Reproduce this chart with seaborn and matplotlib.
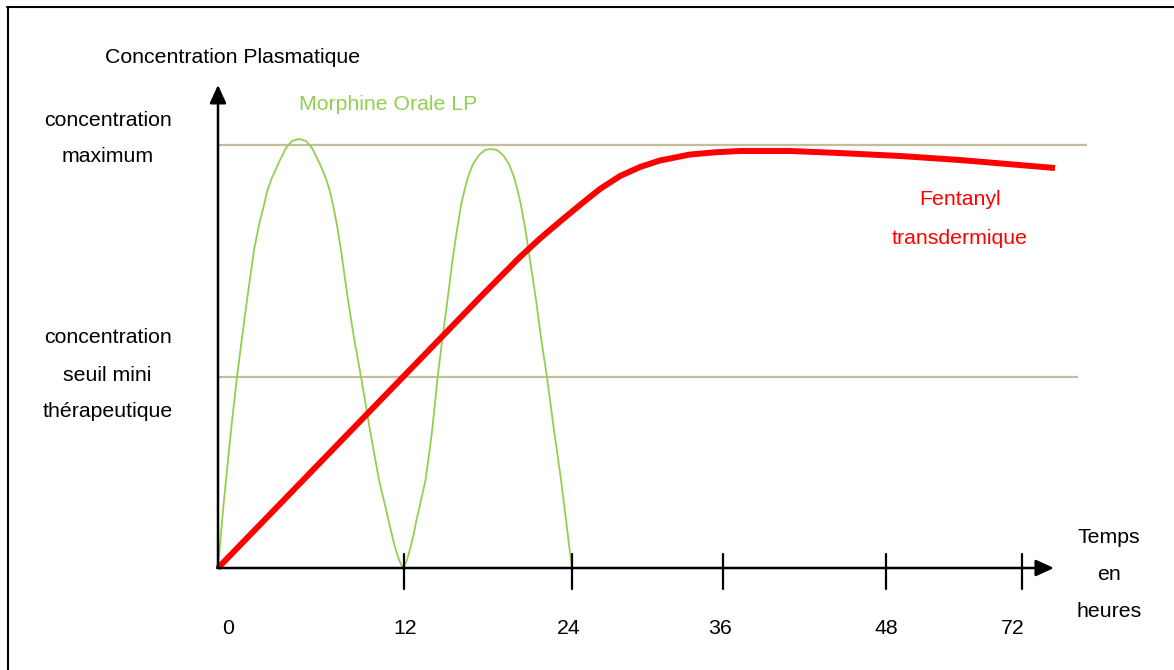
import matplotlib
matplotlib.use("Agg")
import matplotlib.pyplot as plt
from matplotlib.lines import Line2D
import seaborn as sns
import pandas as pd

# ---------------- data (schematic units: x 0..100 along time axis, y 0..100 = max concentration)
morphine_x = [0.00, 0.24, 0.60, 0.96, 1.56, 2.27, 2.87, 3.47, 4.31, 4.90, 5.50, 5.86, 6.34,
              6.88, 7.42, 8.13, 8.85, 9.69, 10.53, 11.24, 11.96, 12.50, 12.98, 13.40, 13.76,
              14.23, 14.71, 15.55, 16.27, 17.11, 18.18, 19.26, 19.98, 20.39, 20.81, 21.17,
              21.65, 22.13, 22.61, 23.03, 23.39, 23.74, 24.16, 24.82, 25.24, 25.62, 25.96,
              26.27, 26.85, 27.45, 28.05, 28.59, 29.07, 29.49, 29.90, 30.50, 31.22, 31.94,
              32.66, 33.37, 34.09, 34.81, 35.41, 35.83, 36.24, 36.78, 37.32, 38.04, 38.64,
              39.35, 40.19, 41.03, 41.63, 41.99, 42.34]
morphine_y = [0, 5.44, 13.71, 20.80, 32.62, 45.15, 54.37, 63.36, 75.18, 81.09, 85.82, 88.89,
              91.73, 94.09, 96.45, 99.29, 100.95, 101.42, 100.95, 99.29, 96.45, 94.09, 91.73,
              88.89, 85.82, 81.09, 75.18, 63.36, 54.37, 45.15, 32.62, 20.80, 14.89, 11.35,
              7.80, 4.96, 1.89, 0, 1.89, 4.96, 7.80, 11.35, 14.89, 20.80, 26.71, 32.62, 39.01,
              45.15, 54.37, 63.36, 72.81, 79.91, 85.82, 89.36, 92.43, 95.48, 97.64, 98.82,
              99.05, 98.82, 97.64, 95.48, 92.43, 89.36, 85.82, 79.91, 72.81, 63.36, 54.37,
              45.15, 32.62, 20.80, 11.35, 5.44, 0]

fentanyl_x = [0, 22.0, 31.6, 36.12, 38.52, 40.91, 43.30, 45.69, 48.09, 50.48, 52.87, 56.46,
              59.45, 62.44, 68.42, 74.40, 81.58, 88.76, 100.12]
fentanyl_y = [0, 44.9, 64.5, 73.52, 77.90, 81.91, 85.82, 89.60, 92.67, 94.80, 96.34, 97.75,
              98.27, 98.58, 98.58, 98.1, 97.4, 96.45, 94.56]

level_max = 100.0
level_seuil = 45.2

tick_labels = ["0", "12", "24", "36", "48", "72"]
tick_pos = [0, 22.25, 42.34, 60.4, 79.9, 96.2]

# ---------------- layout
label_x = [1.2, 22.4, 42.0, 60.0, 79.9, 95.1]
GREEN = "#92D050"
RED = "#FF0000"
TAN = "#C4BD97"

sns.set_style("white")
plt.rcParams["font.family"] = ["Liberation Sans", "DejaVu Sans"]
plt.rcParams["text.color"] = "black"
FS = 15.3

fig = plt.figure(figsize=(11.74, 6.70), dpi=100)
ax = fig.add_axes([0, 0, 1, 1])
px_x, px_y = 8.36, 4.23
ax.set_xlim(-218 / px_x, (1174 - 218) / px_x)
ax.set_ylim((568 - 670) / px_y, 568 / px_y)
ax.axis("off")

# reference levels
ax.plot([0, 103.9], [level_max, level_max], color=TAN, lw=1.6, solid_capstyle="butt")
ax.plot([0, 102.9], [level_seuil, level_seuil], color=TAN, lw=1.6, solid_capstyle="butt")

# curves
df_m = pd.DataFrame({"t": morphine_x, "c": morphine_y})
df_f = pd.DataFrame({"t": fentanyl_x, "c": fentanyl_y})
sns.lineplot(data=df_m, x="t", y="c", sort=False, estimator=None, color=GREEN, lw=1.3, ax=ax,
             solid_joinstyle="round")
sns.lineplot(data=df_f, x="t", y="c", sort=False, estimator=None, color=RED, lw=4.3, ax=ax,
             solid_capstyle="butt", solid_joinstyle="round")

# axes with arrows
arrow_kw = dict(arrowstyle="-|>,head_length=1.1,head_width=0.5", mutation_scale=10,
                color="black", lw=1.8, shrinkA=0, shrinkB=0)
ax.annotate("", xy=(0, 114.2), xytext=(0, 0), arrowprops=arrow_kw)
ax.annotate("", xy=(100, 0), xytext=(-0.1, 0), arrowprops=arrow_kw)

# ticks
for p in tick_pos[1:]:
    ax.plot([p, p], [3.3, -5.0], color="black", lw=1.6)
for lx, lab in zip(label_x, tick_labels):
    ax.text(lx, -14.2, lab, ha="center", va="center", fontsize=FS)

# texts
ax.text(1.8, 120.6, "Concentration Plasmatique", ha="center", va="center", fontsize=FS)
ax.text(-13.2, 105.9, "concentration", ha="center", va="center", fontsize=FS)
ax.text(-13.2, 97.2, "maximum", ha="center", va="center", fontsize=FS)
ax.text(-13.2, 54.4, "concentration", ha="center", va="center", fontsize=FS)
ax.text(-13.2, 45.6, "seuil mini", ha="center", va="center", fontsize=FS)
ax.text(-13.2, 36.9, "thérapeutique", ha="center", va="center", fontsize=FS)
ax.text(20.3, 109.5, "Morphine Orale LP", ha="center", va="center", fontsize=FS, color=GREEN)
ax.text(88.75, 87.0, "Fentanyl", ha="center", va="center", fontsize=FS, color=RED)
ax.text(88.75, 78.0, "transdermique", ha="center", va="center", fontsize=FS, color=RED)
ax.text(106.6, 7.3, "Temps", ha="center", va="center", fontsize=FS)
ax.text(106.6, -1.65, "en", ha="center", va="center", fontsize=FS)
ax.text(106.6, -10.4, "heures", ha="center", va="center", fontsize=FS)

# outer frame (top and left borders visible)
W, H = 1174, 670
fig.add_artist(Line2D([7 / W, 1.0], [1 - 7 / H, 1 - 7 / H], color="black", lw=1.5,
                      transform=fig.transFigure))
fig.add_artist(Line2D([8 / W, 8 / W], [1 - 7 / H, 0], color="black", lw=1.5,
                      transform=fig.transFigure))

fig.savefig("out.png", dpi=100)
